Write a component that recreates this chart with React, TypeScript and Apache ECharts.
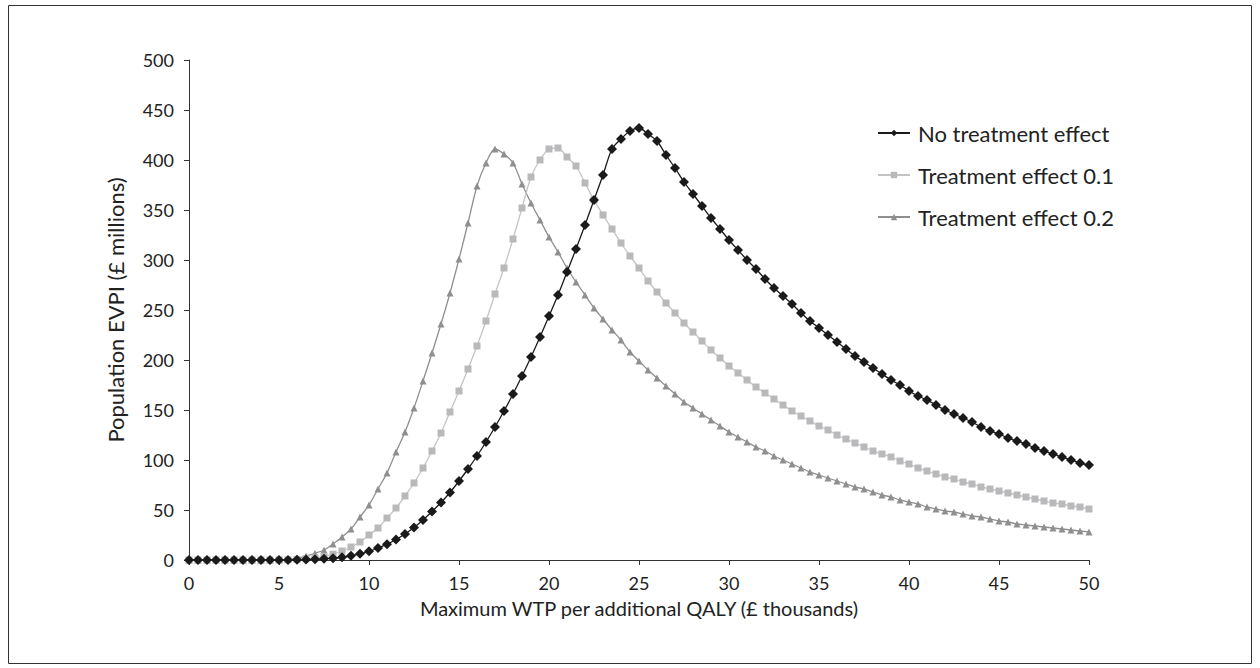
import React, { useEffect, useRef } from "react";
import * as echarts from "echarts";

const wtp = [
  0, 0.5, 1, 1.5, 2, 2.5, 3, 3.5, 4, 4.5,
  5, 5.5, 6, 6.5, 7, 7.5, 8, 8.5, 9, 9.5,
  10, 10.5, 11, 11.5, 12, 12.5, 13, 13.5, 14, 14.5,
  15, 15.5, 16, 16.5, 17, 17.5, 18, 18.5, 19, 19.5,
  20, 20.5, 21, 21.5, 22, 22.5, 23, 23.5, 24, 24.5,
  25, 25.5, 26, 26.5, 27, 27.5, 28, 28.5, 29, 29.5,
  30, 30.5, 31, 31.5, 32, 32.5, 33, 33.5, 34, 34.5,
  35, 35.5, 36, 36.5, 37, 37.5, 38, 38.5, 39, 39.5,
  40, 40.5, 41, 41.5, 42, 42.5, 43, 43.5, 44, 44.5,
  45, 45.5, 46, 46.5, 47, 47.5, 48, 48.5, 49, 49.5,
  50,
];

const noEffect = [
  0, 0, 0, 0, 0, 0, 0, 0, 0, 0,
  0, 0.1, 0.2, 0.4, 0.7, 1.2, 1.8, 2.8, 4.2, 6.2,
  8.7, 12, 15.8, 20.5, 26, 32.5, 40, 48.5, 57.5, 67.5,
  79, 91, 104, 118, 133, 149, 166, 184, 203, 223,
  244, 265, 288, 311, 335, 360, 385, 411, 421, 429,
  432, 426, 419, 405, 392, 378, 366, 354, 342, 331,
  320, 310, 300, 291, 281, 272, 264, 256, 247, 239,
  232, 225, 218, 211, 204, 198, 192, 186, 180, 175,
  169, 164, 160, 155, 150, 146, 142, 138, 133, 129,
  126, 122, 119, 116, 112, 109, 106, 103, 100, 97,
  95,
];

const effect01 = [
  0, 0, 0, 0, 0, 0, 0, 0, 0, 0,
  0.1, 0.3, 0.7, 1.3, 2.2, 3.6, 5.8, 9, 13, 18,
  25, 32, 42, 52, 64, 77, 92, 109, 127, 148,
  169, 191, 214, 239, 266, 292, 321, 352, 383, 400,
  411, 412, 403, 394, 377, 360, 345, 331, 317, 304,
  292, 279, 268, 257, 247, 237, 228, 219, 210, 202,
  194, 187, 180, 173, 167, 161, 155, 149, 144, 139,
  134, 130, 125, 121, 117, 113, 109, 106, 103, 99,
  96, 92, 89, 86, 83, 81, 78, 76, 73, 71,
  69, 67, 65, 63, 61, 59, 57, 56, 54, 53,
  51,
];

const effect02 = [
  0, 0, 0, 0, 0, 0, 0, 0, 0, 0.1,
  0.2, 0.6, 1.7, 4, 6.7, 10, 16, 23, 31, 43,
  55, 71, 87, 108, 128, 152, 179, 207, 236, 267,
  301, 337, 374, 397, 411, 406, 397, 376, 357, 340,
  323, 308, 292, 278, 265, 252, 241, 230, 220, 208,
  199, 190, 182, 174, 166, 158, 152, 146, 140, 134,
  128, 123, 118, 113, 109, 104, 100, 96, 92, 88,
  85, 82, 79, 76, 73, 71, 68, 65, 63, 60,
  58, 56, 53, 51, 49, 48, 46, 44, 43, 41,
  39, 38, 36, 35, 34, 33, 32, 31, 30, 29,
  28,
];

const seriesNames = ["No treatment effect", "Treatment effect 0.1", "Treatment effect 0.2"];
const yTicks = [0, 50, 100, 150, 200, 250, 300, 350, 400, 450, 500];
const xTicks = [0, 5, 10, 15, 20, 25, 30, 35, 40, 45, 50];

const FONT = "Lato, 'Open Sans', sans-serif";

function pairs(ys: number[]) {
  return ys.map((v, i) => [wtp[i], v]);
}

export default function App() {
  const ref = useRef<HTMLDivElement>(null);
  useEffect(() => {
    document.body.style.margin = "0";
    if (!ref.current) return;
    const chart = echarts.init(ref.current, undefined, { renderer: "svg" });
    chart.setOption({
      animation: false,
      backgroundColor: "#ffffff",
      graphic: [
        {
          type: "rect",
          shape: { x: 8.5, y: 5.5, width: 1243, height: 658 },
          style: { fill: "none", stroke: "#333", lineWidth: 1 },
          silent: true,
          z: -1,
        },
      ],
      grid: { left: 189, right: 1260 - 1089, top: 60, bottom: 668 - 560, containLabel: false },
      legend: {
        orient: "vertical",
        left: 872,
        top: 117,
        itemWidth: 32,
        itemHeight: 8,
        itemGap: 20,
        textStyle: { fontFamily: FONT, fontSize: 22, lineHeight: 22, color: "#222", padding: [0, 0, 0, 3] },
        data: seriesNames,
      },
      xAxis: {
        type: "value",
        min: xTicks[0],
        max: xTicks[xTicks.length - 1],
        interval: 5,
        name: "Maximum WTP per additional QALY (£ thousands)",
        nameLocation: "middle",
        nameGap: 38,
        nameTextStyle: { fontFamily: FONT, fontSize: 20, color: "#222" },
        axisLine: { lineStyle: { color: "#333", width: 1 } },
        axisTick: { show: true, length: 5, inside: false, lineStyle: { color: "#333" } },
        axisLabel: { fontFamily: FONT, fontSize: 18, color: "#222", margin: 14 },
        splitLine: { show: false },
      },
      yAxis: {
        type: "value",
        min: yTicks[0],
        max: yTicks[yTicks.length - 1],
        interval: 50,
        name: "Population EVPI (£ millions)",
        nameLocation: "middle",
        nameGap: 63,
        nameRotate: 90,
        nameTextStyle: { fontFamily: FONT, fontSize: 22, color: "#222" },
        axisLine: { show: true, lineStyle: { color: "#333", width: 1 } },
        axisTick: { show: true, length: 5, inside: false, lineStyle: { color: "#333" } },
        axisLabel: { fontFamily: FONT, fontSize: 18, color: "#222", margin: 15 },
        splitLine: { show: false },
      },
      series: [
        {
          name: seriesNames[2],
          type: "line",
          data: pairs(effect02),
          smooth: 0.3,
          symbol: "triangle",
          symbolSize: 7,
          lineStyle: { color: "#8f8f8f", width: 1.3 },
          itemStyle: { color: "#8f8f8f" },
          z: 2,
        },
        {
          name: seriesNames[1],
          type: "line",
          data: pairs(effect01),
          smooth: 0.3,
          symbol: "rect",
          symbolSize: 7,
          lineStyle: { color: "#c4c4c6", width: 1.3 },
          itemStyle: { color: "#b9b9bb" },
          z: 3,
        },
        {
          name: seriesNames[0],
          type: "line",
          data: pairs(noEffect),
          smooth: 0.3,
          symbol: "diamond",
          symbolSize: 10,
          lineStyle: { color: "#1a1a1a", width: 1.3 },
          itemStyle: { color: "#1a1a1a" },
          z: 4,
        },
      ],
    });
    return () => chart.dispose();
  }, []);
  return <div ref={ref} style={{ width: 1260, height: 668 }} />;
}
